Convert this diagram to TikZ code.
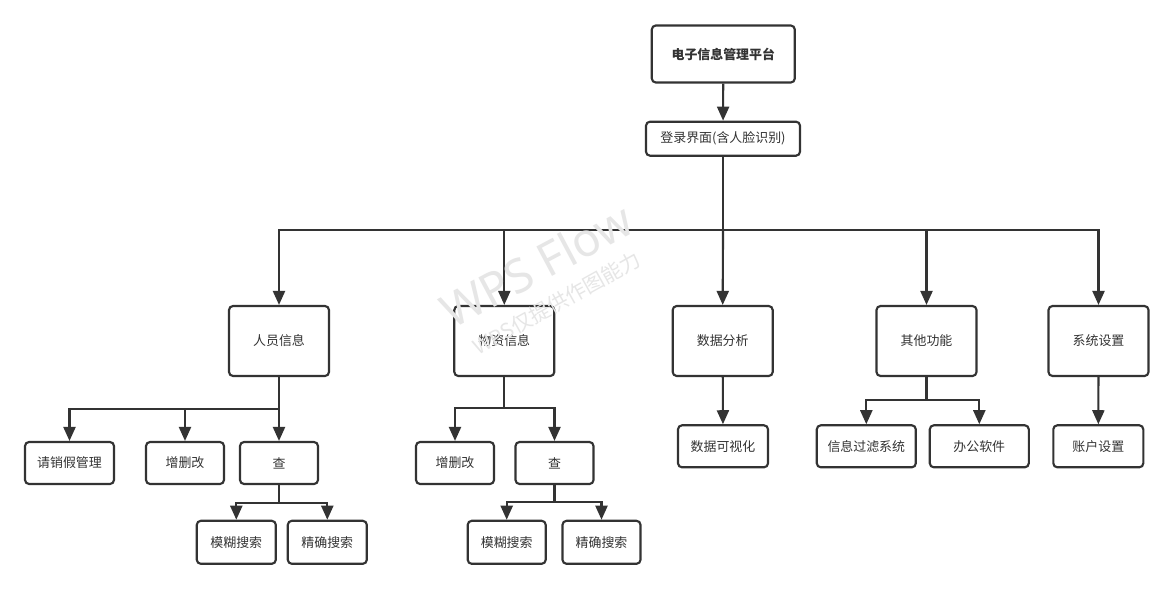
\documentclass[tikz,border=0pt]{standalone}
\usepackage{fontspec}
\newfontfamily\cjk{Noto Sans CJK SC}
\newfontfamily\wmfont{Noto Sans}
\usetikzlibrary{arrows.meta}
\definecolor{ln}{HTML}{333333}
\definecolor{tx}{HTML}{333333}
\definecolor{wm}{HTML}{E6E6E6}
\tikzset{
  box/.style={draw=ln, line width=1.6pt, rounded corners=3pt, fill=white, text=tx,
    font=\cjk\fontsize{9.7pt}{12pt}\selectfont, inner sep=0pt},
  arr/.style={draw=ln, line width=1.6pt, -{Triangle[length=10.5pt,width=9pt]}},
  wmark/.style={text=wm, inner sep=0pt},
}
\newcommand{\bx}[6]{\node[box, minimum width=#4*0.75pt, minimum height=#5*0.75pt] (#1) at (#2,#3) {#6};}
\begin{document}
\begin{tikzpicture}[x=0.75pt,y=-0.75pt]
\useasboundingbox (0,0) rectangle (1173,589);
\fill[white] (0,0) rectangle (1173,589);
% nodes
\bx{top}{723.3}{54}{143}{57}{\bfseries 电子信息管理平台}
\bx{login}{723}{138.7}{154}{34}{登录界面(含人脸识别)}
\bx{ry}{279}{341}{100}{70}{人员信息}
\bx{wz}{504.3}{341}{100}{70}{物资信息}
\bx{sj}{722.7}{341}{100}{70}{数据分析}
\bx{qt}{926.5}{341}{100}{70}{其他功能}
\bx{xt}{1098.5}{341}{100}{70}{系统设置}
\bx{qxj}{69.5}{463}{89}{42}{请销假管理}
\bx{zsg1}{185}{463}{78}{42}{增删改}
\bx{cha1}{279}{463}{78}{42}{查}
\bx{mh1}{236.3}{542.3}{79}{43}{模糊搜索}
\bx{jq1}{327.3}{542.3}{79}{43}{精确搜索}
\bx{zsg2}{455}{463}{78}{42}{增删改}
\bx{cha2}{554.5}{463}{78}{42}{查}
\bx{mh2}{506.7}{542.3}{78}{43}{模糊搜索}
\bx{jq2}{601.5}{542.3}{78}{43}{精确搜索}
\bx{ksh}{723}{446.3}{90}{42}{数据可视化}
\bx{glxt}{866.3}{446.3}{99}{42}{信息过滤系统}
\bx{bg}{979.3}{446.3}{99}{42}{办公软件}
\bx{zh}{1098.3}{446.3}{90}{42}{账户设置}
% bus coordinates
\coordinate (b0) at (723,230);
\coordinate (b1) at (279,409);
\coordinate (b2) at (279,502.7);
\coordinate (b3) at (504.3,408.3);
\coordinate (b4) at (554.5,502.3);
\coordinate (b5) at (926.5,400.3);
% connectors
\draw[arr] (top) -- (login);
\draw[arr] (login) -- (b0) -| (ry.north);
\draw[arr] (b0) -| (wz.north);
\draw[arr] (b0) -- (sj.north);
\draw[arr] (b0) -| (qt.north);
\draw[arr] (b0) -| (xt.north);
\draw[arr] (ry) -- (b1) -| (qxj.north);
\draw[arr] (b1) -| (zsg1.north);
\draw[arr] (b1) -- (cha1.north);
\draw[arr] (cha1) -- (b2) -| (mh1.north);
\draw[arr] (b2) -| (jq1.north);
\draw[arr] (wz) -- (b3) -| (zsg2.north);
\draw[arr] (b3) -| (cha2.north);
\draw[arr] (cha2) -- (b4) -| (mh2.north);
\draw[arr] (b4) -| (jq2.north);
\draw[arr] (sj) -- (ksh);
\draw[arr] (qt) -- (b5) -| (glxt.north);
\draw[arr] (b5) -| (bg.north);
\draw[arr] (xt) -- (zh);
% watermark
\node[wmark, rotate=28, anchor=base west, font=\wmfont\fontsize{35pt}{36pt}\selectfont] (wm1) at (452,330) {WPS Flow};
\node[wmark, rotate=29, anchor=base west, font=\cjk\fontsize{15.5pt}{16pt}\selectfont] (wm2) at (478,356) {WPS仅提供作图能力};
\end{tikzpicture}
\end{document}
